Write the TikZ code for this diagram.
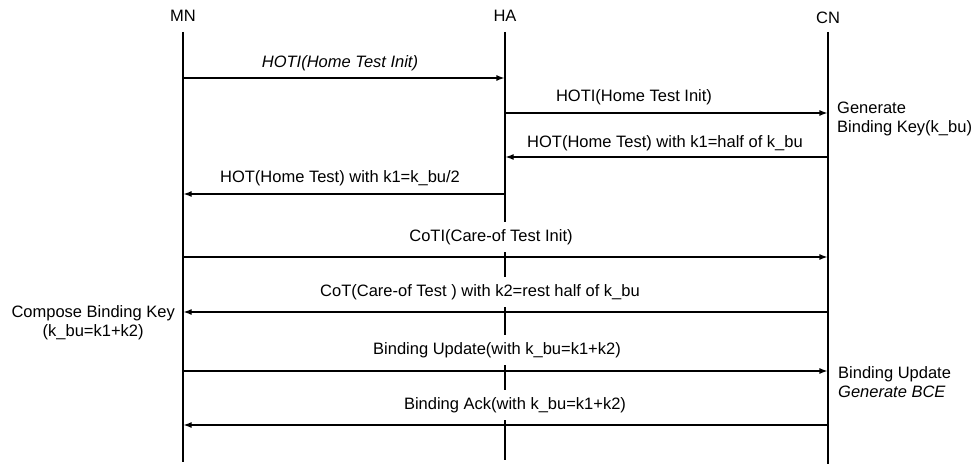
\documentclass[tikz,border=0pt]{standalone}
\usepackage{fontspec}
\setmainfont{Liberation Sans}
\usetikzlibrary{arrows.meta}
\begin{document}
\begin{tikzpicture}[x=1pt,y=-1pt,
  txt/.style={font=\fontsize{16.5}{19}\selectfont},
  actor/.style={txt, inner sep=0pt},
  life/.style={line width=1.4pt},
  msg/.style={line width=1.2pt, -{Latex[length=8pt,width=6pt]}, shorten >=0.6pt},
  lbl/.style={txt, fill=white, inner xsep=2pt, inner ysep=7pt},
  note/.style={txt, inner sep=0pt, align=left}]
\useasboundingbox (0,0) rectangle (978,468);

% actors
\node[actor] (mn) at (183,16) {MN};
\node[actor] (ha) at (505,16) {HA};
\node[actor] (cn) at (828,18) {CN};

% lifelines
\coordinate (mnT) at (183,32); \coordinate (mnB) at (183,462);
\coordinate (haT) at (505,32); \coordinate (haB) at (505,460);
\coordinate (cnT) at (828,32); \coordinate (cnB) at (828,464);
\draw[life] (mnT) -- (mnB);
\draw[life] (haT) -- (haB);
\draw[life] (cnT) -- (cnB);

% message anchor points
\coordinate (mn1) at (183,78);  \coordinate (ha1) at (505,78);
\coordinate (ha2) at (505,113); \coordinate (cn2) at (828,113);
\coordinate (cn3) at (828,157); \coordinate (ha3) at (505,157);
\coordinate (ha4) at (505,194); \coordinate (mn4) at (183,194);
\coordinate (mn5) at (183,257); \coordinate (cn5) at (828,257);
\coordinate (cn6) at (828,312); \coordinate (mn6) at (183,312);
\coordinate (mn7) at (183,371); \coordinate (cn7) at (828,371);
\coordinate (cn8) at (828,425); \coordinate (mn8) at (183,425);

% labels (drawn before arrows so that white boxes only hide lifelines)
\node[lbl] (l1) at (340,63) {\itshape HOTI(Home Test Init)};
\node[lbl] (l2) at (634,97) {HOTI(Home Test Init)};
\node[lbl] (l3) at (665,143) {HOT(Home Test) with k1=half of k\_bu};
\node[lbl] (l4) at (340,178) {HOT(Home Test) with k1=k\_bu/2};
\node[lbl] (l5) at (491,237) {CoTI(Care-of Test Init)};
\node[lbl] (l6) at (480,292) {CoT(Care-of Test ) with k2=rest half of k\_bu};
\node[lbl] (l7) at (497,350) {Binding Update(with k\_bu=k1+k2)};
\node[lbl] (l8) at (515,405) {Binding Ack(with k\_bu=k1+k2)};

% messages
\draw[msg] (mn1) -- (ha1);
\draw[msg] (ha2) -- (cn2);
\draw[msg] (cn3) -- (ha3);
\draw[msg] (ha4) -- (mn4);
\draw[msg] (mn5) -- (cn5);
\draw[msg] (cn6) -- (mn6);
\draw[msg] (mn7) -- (cn7);
\draw[msg] (cn8) -- (mn8);

% side notes
\node[note, anchor=west] (gen) at (837,119) {Generate\\Binding Key(k\_bu)};
\node[note, anchor=west] (bu) at (838,382) {Binding Update\\\itshape Generate BCE};
\node[txt, inner sep=0pt, align=center, anchor=east] (comp) at (175,323) {Compose Binding Key\\(k\_bu=k1+k2)};
\end{tikzpicture}
\end{document}
